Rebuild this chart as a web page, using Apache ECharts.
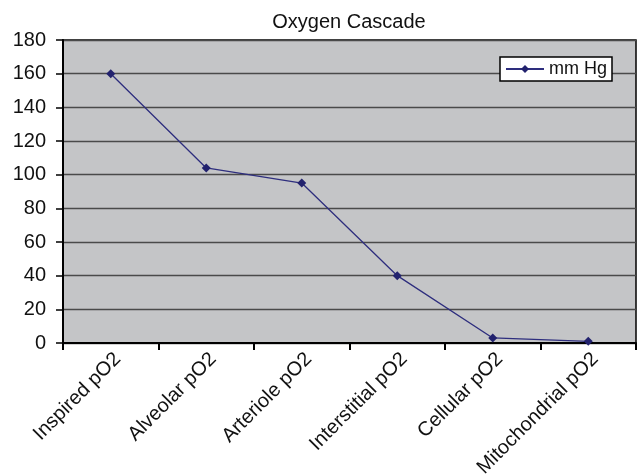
<!DOCTYPE html>
<html><head><meta charset="utf-8">
<script src="https://cdn.jsdelivr.net/npm/echarts@6/dist/echarts.min.js"></script>
<style>html,body{margin:0;padding:0;background:#fff}#c{width:637px;height:475px}</style>
</head><body><div id="c"></div>
<script>
const categories = ['Inspired pO2','Alveolar pO2','Arteriole pO2','Interstitial pO2','Cellular pO2','Mitochondrial pO2'];
const values = [160, 104, 95, 40, 3, 1];
const seriesName = 'mm Hg';
const titleText = 'Oxygen Cascade';
const yMin = 0, yMax = 180, yStep = 20;

const chart = echarts.init(document.getElementById('c'), null, {renderer:'canvas'});
const font = 'Liberation Sans, Arial, sans-serif';
chart.setOption({
  animation:false,
  backgroundColor:'#fff',
  title:{text:titleText,left:344,top:7,textAlign:'center',textStyle:{fontFamily:font,fontSize:20,fontWeight:'normal',color:'#111'}},
  legend:{data:[seriesName],left:500,top:57,orient:'vertical',backgroundColor:'#fff',borderColor:'#000',borderWidth:1.5,borderRadius:0,padding:[3,5,3,5],itemWidth:38,itemHeight:10,itemGap:0,
    textStyle:{fontFamily:font,fontSize:18,color:'#111'}},
  grid:{left:63,right:1,top:40,bottom:132,show:true,outerBoundsMode:'none',containLabel:false,backgroundColor:'#c4c5c7',borderColor:'#000',borderWidth:1.5},
  xAxis:{type:'category',data:categories,boundaryGap:true,
    axisLine:{lineStyle:{color:'#000',width:2}},
    axisTick:{show:true,length:7,lineStyle:{color:'#000',width:2},alignWithLabel:false},
    axisLabel:{rotate:45,fontFamily:font,fontSize:20,color:'#111',margin:6,interval:0,verticalAlign:'top'}},
  yAxis:{type:'value',min:yMin,max:yMax,interval:yStep,
    axisLine:{show:true,lineStyle:{color:'#000',width:2}},
    axisTick:{show:true,length:7,lineStyle:{color:'#000',width:1.5}},
    axisLabel:{fontFamily:font,fontSize:20,color:'#111',margin:17},
    splitLine:{lineStyle:{color:'#4a4a4a',width:1.3}}},
  series:[{name:seriesName,type:'line',data:values,symbol:'diamond',symbolSize:9,
    lineStyle:{color:'#2e2e7e',width:1.3},itemStyle:{color:'#22226e'}}]
});
</script></body></html>
